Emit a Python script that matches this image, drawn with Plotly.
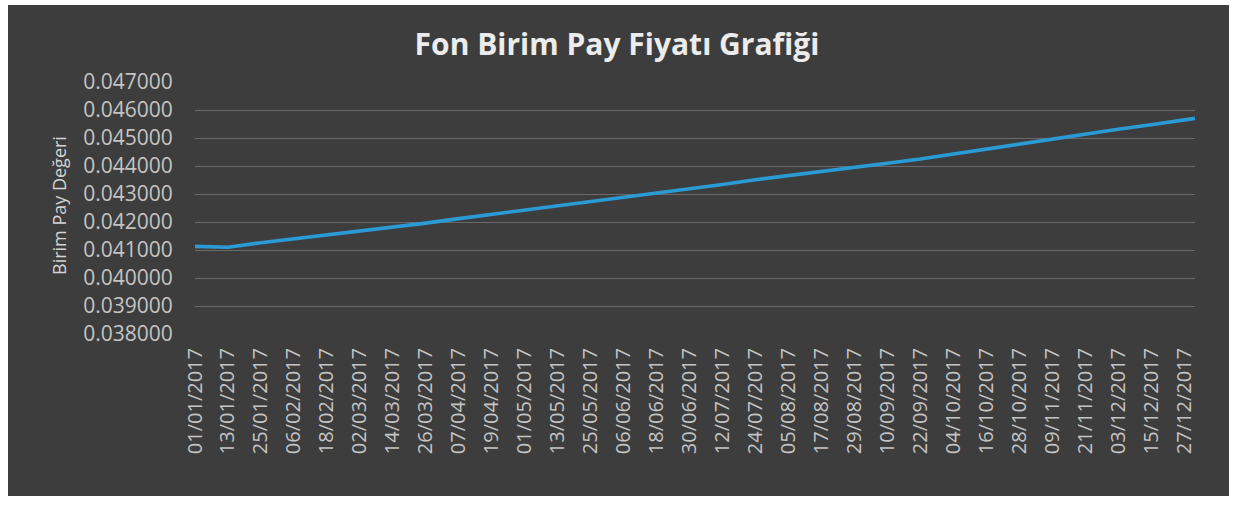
import plotly.graph_objects as go

# Data (fund unit price, 2017)
dates = [
    "2017-01-01", "2017-01-13", "2017-01-25", "2017-02-06", "2017-02-18",
    "2017-03-02", "2017-03-14", "2017-03-26", "2017-04-07", "2017-04-19",
    "2017-05-01", "2017-05-13", "2017-05-25", "2017-06-06", "2017-06-18",
    "2017-06-30", "2017-07-12", "2017-07-24", "2017-08-05", "2017-08-17",
    "2017-08-29", "2017-09-10", "2017-09-22", "2017-10-04", "2017-10-16",
    "2017-10-28", "2017-11-09", "2017-11-21", "2017-12-03", "2017-12-15",
    "2017-12-27", "2017-12-31",
]
values = [
    0.04113, 0.04110, 0.04126, 0.04140, 0.04153,
    0.04166, 0.04180, 0.04196, 0.04212, 0.04227,
    0.04242, 0.04256, 0.04272, 0.04287, 0.04302,
    0.04316, 0.04334, 0.04351, 0.04365, 0.04380,
    0.04395, 0.04410, 0.04425, 0.04443, 0.04460,
    0.04478, 0.04496, 0.04514, 0.04531, 0.04547,
    0.04562, 0.04570,
]
tick_dates = dates[:31]
tick_labels = [
    "01/01/2017", "13/01/2017", "25/01/2017", "06/02/2017", "18/02/2017",
    "02/03/2017", "14/03/2017", "26/03/2017", "07/04/2017", "19/04/2017",
    "01/05/2017", "13/05/2017", "25/05/2017", "06/06/2017", "18/06/2017",
    "30/06/2017", "12/07/2017", "24/07/2017", "05/08/2017", "17/08/2017",
    "29/08/2017", "10/09/2017", "22/09/2017", "04/10/2017", "16/10/2017",
    "28/10/2017", "09/11/2017", "21/11/2017", "03/12/2017", "15/12/2017",
    "27/12/2017",
]
y_ticks = [0.038, 0.039, 0.040, 0.041, 0.042, 0.043, 0.044, 0.045, 0.046, 0.047]
y_tick_labels = ["%.6f" % v for v in y_ticks]

BG = "#3d3d3d"
GRID = "#6a6a6a"
TXT = "#c4c4c4"
FONT = "Open Sans"

fig = go.Figure()
fig.add_trace(go.Scatter(
    x=dates, y=values, mode="lines",
    line=dict(color="#2b9bd6", width=3.6),
    hoverinfo="x+y", showlegend=False,
))

fig.update_layout(
    width=1237, height=505,
    margin=dict(l=195, r=42, t=82, b=171),
    paper_bgcolor="#ffffff",
    plot_bgcolor=BG,
    font=dict(family=FONT, color=TXT),
    title=dict(
        text="<b>Fon Birim Pay Fiyatı Grafiği</b>",
        x=617 / 1237, xref="container", xanchor="center",
        y=1 - 44 / 505, yref="container", yanchor="middle",
        font=dict(family=FONT, size=30, color="#ececec"),
    ),
    shapes=[dict(
        type="rect", xref="paper", yref="paper",
        x0=-0.187, x1=1.034, y0=-0.643, y1=1.306,
        fillcolor=BG, line=dict(width=0), layer="below",
    )],
    annotations=[dict(
        text="Birim Pay Değeri", textangle=-90,
        xref="paper", yref="paper", x=-0.136, y=0.508,
        xanchor="center", yanchor="middle", showarrow=False,
        font=dict(family=FONT, size=18, color="#d4d4d4"),
    )],
)
fig.update_xaxes(
    type="date",
    range=["2017-01-01", "2017-12-31"],
    tickmode="array", tickvals=tick_dates, ticktext=tick_labels,
    tickangle=-90,
    tickfont=dict(family=FONT, size=20, color=TXT),
    showgrid=False, zeroline=False,
    ticks="outside", ticklen=5, tickcolor=BG,
    showline=False,
)
fig.update_yaxes(
    range=[0.038, 0.047],
    tickmode="array", tickvals=y_ticks, ticktext=y_tick_labels,
    tickfont=dict(family=FONT, size=21, color=TXT),
    showgrid=True, gridcolor=GRID, gridwidth=1,
    zeroline=False,
    ticks="outside", ticklen=17, tickcolor=BG,
    showline=False,
)

fig.write_html(
    "out.html",
    config={"displayModeBar": False},
    post_script="document.body.style.margin='0';",
)
